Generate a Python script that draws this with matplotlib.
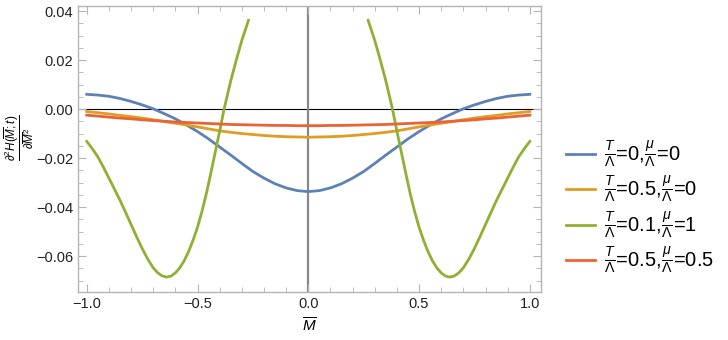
import numpy as np
import matplotlib
matplotlib.use("Agg")
import matplotlib.pyplot as plt
from matplotlib.ticker import MultipleLocator, FuncFormatter

plt.rcParams['font.family'] = ['Liberation Sans', 'DejaVu Sans']
plt.rcParams['mathtext.fontset'] = 'custom'
plt.rcParams['mathtext.rm'] = 'Liberation Sans'
plt.rcParams['mathtext.it'] = 'Liberation Sans:italic'
plt.rcParams['mathtext.bf'] = 'Liberation Sans:bold'

# dados
x_grid = [-1.0, -0.95, -0.9, -0.85, -0.8, -0.75, -0.7, -0.65, -0.6, -0.55, -0.5,
          -0.45, -0.4, -0.35, -0.3, -0.25, -0.2, -0.15, -0.1, -0.05, 0.0,
          0.05, 0.1, 0.15, 0.2, 0.25, 0.3, 0.35, 0.4, 0.45, 0.5,
          0.55, 0.6, 0.65, 0.7, 0.75, 0.8, 0.85, 0.9, 0.95, 1.0]
azul = [0.0060, 0.0057, 0.0052, 0.0043, 0.0031, 0.0017, 0.0001, -0.0019, -0.0040, -0.0065, -0.0092,
        -0.0122, -0.0155, -0.0188, -0.0222, -0.0255, -0.0282, -0.0305, -0.0322, -0.0333, -0.0337,
        -0.0333, -0.0322, -0.0305, -0.0282, -0.0255, -0.0222, -0.0188, -0.0155, -0.0122, -0.0092,
        -0.0065, -0.0040, -0.0019, 0.0001, 0.0017, 0.0031, 0.0043, 0.0052, 0.0057, 0.0060]
laranja = [-0.0010, -0.0015, -0.0020, -0.0026, -0.0031, -0.0037, -0.0044, -0.0051, -0.0058, -0.0065, -0.0073,
           -0.0081, -0.0089, -0.0095, -0.0100, -0.0104, -0.0108, -0.0111, -0.0113, -0.0114, -0.0115,
           -0.0114, -0.0113, -0.0111, -0.0108, -0.0104, -0.0100, -0.0095, -0.0089, -0.0081, -0.0073,
           -0.0065, -0.0058, -0.0051, -0.0044, -0.0037, -0.0031, -0.0026, -0.0020, -0.0015, -0.0010]
vermelho = [-0.0025, -0.0029, -0.0033, -0.0037, -0.0040, -0.0044, -0.0047, -0.0050, -0.0053, -0.0055, -0.0057,
            -0.0059, -0.0061, -0.0063, -0.0064, -0.0065, -0.0066, -0.0067, -0.0067, -0.0068, -0.0068,
            -0.0068, -0.0067, -0.0067, -0.0066, -0.0065, -0.0064, -0.0063, -0.0061, -0.0059, -0.0057,
            -0.0055, -0.0053, -0.0050, -0.0047, -0.0044, -0.0040, -0.0037, -0.0033, -0.0029, -0.0025]

# curva verde tem dois ramos (sai do grafico no meio)
verde_x_esq = [-1.0, -0.975, -0.95, -0.925, -0.9, -0.875, -0.85, -0.825, -0.8, -0.775, -0.75, -0.725,
               -0.7, -0.68, -0.66, -0.64, -0.62, -0.6, -0.58, -0.56, -0.54, -0.52, -0.5, -0.48,
               -0.46, -0.44, -0.42, -0.4, -0.38, -0.35, -0.325, -0.3, -0.27]
verde_y_esq = [-0.0132, -0.0162, -0.0195, -0.0237, -0.0282, -0.0327, -0.0372, -0.0421, -0.0471, -0.0521,
               -0.0569, -0.0612, -0.0648, -0.0668, -0.0681, -0.0686, -0.0682, -0.0669, -0.0648, -0.0619,
               -0.0581, -0.0535, -0.0482, -0.0418, -0.0345, -0.0262, -0.0176, -0.0090, 0.0000, 0.0115,
               0.0200, 0.0280, 0.0362]
verde_x_dir = [0.27, 0.3, 0.325, 0.35, 0.38, 0.4, 0.42, 0.44, 0.46, 0.48, 0.5, 0.52, 0.54, 0.56,
               0.58, 0.6, 0.62, 0.64, 0.66, 0.68, 0.7, 0.725, 0.75, 0.775, 0.8, 0.825, 0.85, 0.875,
               0.9, 0.925, 0.95, 0.975, 1.0]
verde_y_dir = [0.0362, 0.0280, 0.0200, 0.0115, 0.0000, -0.0090, -0.0176, -0.0262, -0.0345, -0.0418,
               -0.0482, -0.0535, -0.0581, -0.0619, -0.0648, -0.0669, -0.0682, -0.0686, -0.0681, -0.0668,
               -0.0648, -0.0612, -0.0569, -0.0521, -0.0471, -0.0421, -0.0372, -0.0327, -0.0282, -0.0237,
               -0.0195, -0.0162, -0.0132]

rotulos = [r'$\frac{T}{\Lambda}$=0,$\frac{\mu}{\Lambda}$=0',
           r'$\frac{T}{\Lambda}$=0.5,$\frac{\mu}{\Lambda}$=0',
           r'$\frac{T}{\Lambda}$=0.1,$\frac{\mu}{\Lambda}$=1',
           r'$\frac{T}{\Lambda}$=0.5,$\frac{\mu}{\Lambda}$=0.5']
cores = ['#5E81B5', '#E19C24', '#8FB032', '#EB6235']

fig = plt.figure(figsize=(7.28, 3.4), dpi=100)
ax = fig.add_axes([0.107, 0.141, 0.636, 0.841])

# eixos em zero
ax.axhline(0, color='black', lw=0.8, zorder=1)
ax.axvline(0, color='#888888', lw=1.6, zorder=1)

lw = 2.0
l1, = ax.plot(x_grid, azul, color=cores[0], lw=lw, zorder=3)
l2, = ax.plot(x_grid, laranja, color=cores[1], lw=lw, zorder=3)
l3, = ax.plot(verde_x_esq, verde_y_esq, color=cores[2], lw=lw, zorder=3)
ax.plot(verde_x_dir, verde_y_dir, color=cores[2], lw=lw, zorder=3)
l4, = ax.plot(x_grid, vermelho, color=cores[3], lw=lw, zorder=3)

ax.set_xlim(-1.04, 1.05)
ax.set_ylim(-0.0747, 0.042)

ax.xaxis.set_major_locator(MultipleLocator(0.5))
ax.xaxis.set_minor_locator(MultipleLocator(0.1))
ax.yaxis.set_major_locator(MultipleLocator(0.02))
ax.yaxis.set_minor_locator(MultipleLocator(0.005))
ax.xaxis.set_major_formatter(FuncFormatter(lambda v, p: f'{v:.1f}'.replace('-', '\u2212')))
ax.yaxis.set_major_formatter(FuncFormatter(lambda v, p: f'{v:.2f}'.replace('-', '\u2212')))

for s in ax.spines.values():
    s.set_color('#b4b4b4')
    s.set_linewidth(1.0)
ax.tick_params(which='both', direction='in', top=True, right=True, color='#b4b4b4',
               labelsize=10.5, labelcolor='#222222')
ax.tick_params(which='major', length=6, width=0.8)
ax.tick_params(which='minor', length=3.5, width=0.6)

ax.set_xlabel(r'$\overline{M}$', fontsize=11, labelpad=4)
# rotulo do eixo y
fig.text(0.026, 0.595, r'$\frac{\partial^2 H(\overline{M};t)}{\partial \overline{M}^2}$',
         fontsize=12, rotation=90, ha='center', va='center')

fig.legend([l1, l2, l3, l4], rotulos, loc='center left', bbox_to_anchor=(0.766, 0.39),
           frameon=False, fontsize=14.5, handlelength=1.45, labelspacing=0.22,
           handletextpad=0.45, borderaxespad=0)

plt.savefig('out.png', dpi=100)
